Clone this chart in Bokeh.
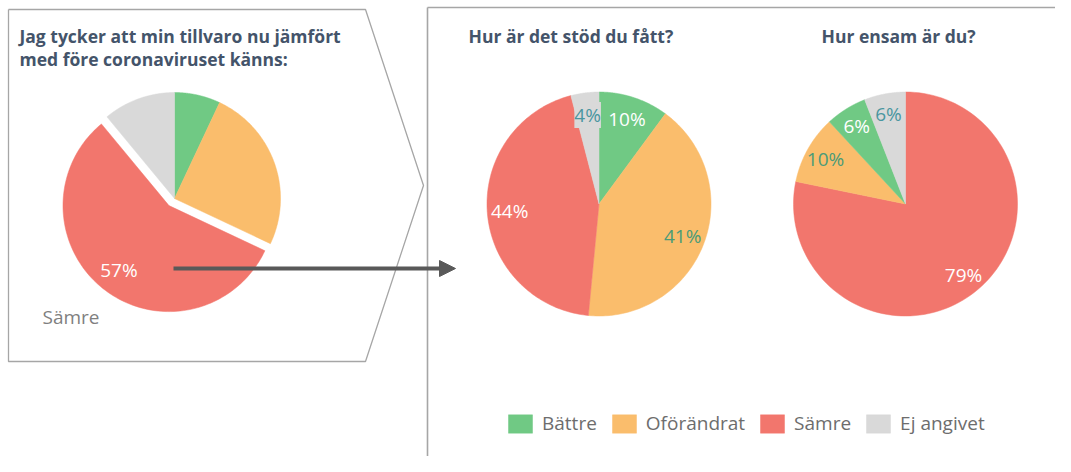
import numpy as np
from bokeh.plotting import figure
from bokeh.models import Range1d, ColumnDataSource, Arrow, NormalHead, Legend, LegendItem
from bokeh.core.properties import value
from bokeh.embed import file_html
from bokeh.resources import INLINE

# ---------------- data ----------------
categories = ["Bättre", "Oförändrat", "Sämre", "Ej angivet"]
cat_colors = ["#70c984", "#fabd6c", "#f2766d", "#d9d9d9"]
cat_label_colors = ["#ffffff", "#4a9b78", "#ffffff", "#4a96a0"]
cat_label_bg_alpha = [0.0, 0.0, 0.0, 1.0]

left_title = ["Jag tycker att min tillvaro nu jämfört", "med före coronaviruset känns:"]
left_categories = ["Bättre", "Oförändrat", "Sämre", "Ej angivet"]
left_values = [7, 25, 57, 11]
left_labeled = "Sämre"

support_title = "Hur är det stöd du fått?"
support_categories = ["Bättre", "Oförändrat", "Sämre", "Ej angivet"]
support_values = [10, 41, 44, 4]

lonely_title = "Hur ensam är du?"
lonely_categories = ["Sämre", "Oförändrat", "Bättre", "Ej angivet"]
lonely_values = [79, 10, 6, 6]

FONT = "Open Sans"
TITLE_COLOR = "#44546a"
FRAME_COLOR = "#a6a6a6"

color_of = dict(zip(categories, cat_colors))
lcolor_of = dict(zip(categories, cat_label_colors))
lbg_of = dict(zip(categories, cat_label_bg_alpha))


def pie_source(cats, vals, cx, cy, r, explode=None, dist=0.0, lab_r=0.8):
    v = np.asarray(vals, dtype=float)
    frac = v / v.sum()
    ends = np.cumsum(frac)
    starts = ends - frac
    xs, ys, cols, lx, ly, ltxt, lcol, lbg = [], [], [], [], [], [], [], []
    for c, val, s, e in zip(cats, vals, starts, ends):
        mid = (s + e) / 2 * 2 * np.pi
        ox, oy = 0.0, 0.0
        if explode == c:
            ox, oy = dist * np.sin(mid), -dist * np.cos(mid)
        th = np.linspace(s, e, 120) * 2 * np.pi
        px = np.concatenate([[cx + ox], cx + ox + r * np.sin(th)])
        py = np.concatenate([[cy + oy], cy + oy - r * np.cos(th)])
        xs.append(px)
        ys.append(py)
        cols.append(color_of[c])
        lx.append(cx + ox + lab_r * r * np.sin(mid))
        ly.append(cy + oy - lab_r * r * np.cos(mid))
        ltxt.append(f"{val}%")
        lcol.append(lcolor_of[c])
        lbg.append(lbg_of[c])
    patches = ColumnDataSource(dict(xs=xs, ys=ys, color=cols, cat=list(cats)))
    labels = ColumnDataSource(dict(x=lx, y=ly, text=ltxt, color=lcol, bg=cols,
                                   bga=lbg, cat=list(cats)))
    return patches, labels


W, H = 1055, 456
p = figure(width=W, height=H, output_backend="svg", toolbar_location=None,
           x_range=Range1d(0, W), y_range=Range1d(H, 0),
           min_border=0, outline_line_color=None)
p.axis.visible = False
p.grid.visible = False
p.background_fill_color = "white"

# ---- frames ----
p.line(x=[8, 365, 423, 365, 8, 8], y=[9, 9, 185, 361, 361, 9],
       line_color=FRAME_COLOR, line_width=1.3)
p.multi_line(xs=[[427, 427], [427, 1075]], ys=[[480, 7], [7, 7]],
             line_color=FRAME_COLOR, line_width=1.6)

# ---- titles ----
p.text(x=[19, 19], y=[35, 58], text=left_title, text_font=value(FONT),
       text_font_style="bold", text_font_size="17.5px", text_color=TITLE_COLOR,
       text_baseline="middle", text_align="left")
p.text(x=[468, 821], y=[35, 35], text=[support_title, lonely_title], text_font=value(FONT),
       text_font_style="bold", text_font_size="17.5px", text_color=TITLE_COLOR,
       text_baseline="middle", text_align="left")

# ---- left pie ----
lp, ll = pie_source(left_categories, left_values, 174, 198, 106,
                    explode=left_labeled, dist=9, lab_r=0.77)
p.patches(xs="xs", ys="ys", fill_color="color", line_color="color", line_width=0.5, source=lp)
idx = left_categories.index(left_labeled)
p.text(x=[ll.data["x"][idx]], y=[ll.data["y"][idx]], text=[ll.data["text"][idx]],
       text_font=value(FONT), text_font_size="19px", text_color=ll.data["color"][idx],
       text_align="center", text_baseline="middle")
p.text(x=[42], y=[316], text=[left_labeled], text_font=value(FONT), text_font_size="19px",
       text_color="#7f7f7f", text_align="left", text_baseline="middle")

# ---- arrow ----
p.add_layout(Arrow(end=NormalHead(size=16, fill_color="#595959", line_color="#595959"),
                   x_start=173, y_start=268, x_end=455, y_end=268,
                   line_color="#595959", line_width=4))

# ---- middle pie ----
mp, ml = pie_source(support_categories, support_values, 598.5, 203.5, 112, lab_r=0.8)
r_mid = p.patches(xs="xs", ys="ys", fill_color="color", line_color="color", line_width=0.5, source=mp)
p.text(x="x", y="y", text="text", text_color="color", source=ml, text_font=value(FONT),
       text_font_size="19px", text_align="center", text_baseline="middle",
       background_fill_color="bg", background_fill_alpha="bga")

# ---- right pie ----
rp, rl = pie_source(lonely_categories, lonely_values, 905, 203.5, 112, lab_r=0.82)
p.patches(xs="xs", ys="ys", fill_color="color", line_color="color", line_width=0.5, source=rp)
p.text(x="x", y="y", text="text", text_color="color", source=rl, text_font=value(FONT),
       text_font_size="19px", text_align="center", text_baseline="middle",
       background_fill_color="bg", background_fill_alpha="bga")

# ---- legend ----
items = [LegendItem(label=c, renderers=[r_mid], index=support_categories.index(c)) for c in categories]
legend = Legend(items=items, orientation="horizontal", location=(505, 20),
                glyph_width=30, glyph_height=23, label_height=23, label_standoff=7, spacing=12,
                padding=0, margin=0, border_line_alpha=0, background_fill_alpha=0,
                label_text_font=FONT, label_text_font_size="19px", label_text_color="#6d6d6d",
                label_text_baseline="middle")
p.add_layout(legend, "center")

open("out.html", "w").write(file_html(p, INLINE))
